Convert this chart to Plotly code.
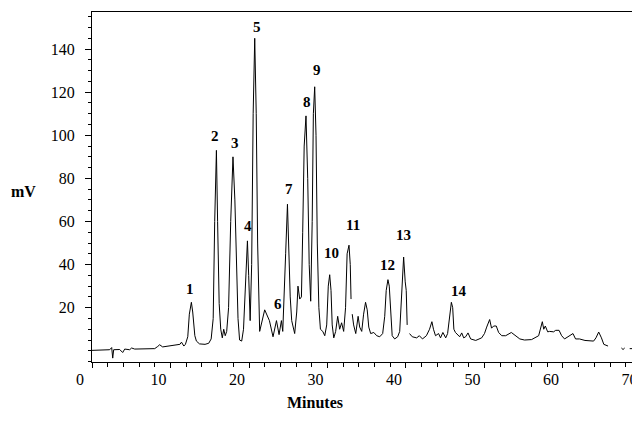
import plotly.graph_objects as go

# Retention time (min) and detector signal (mV); None marks breaks in the trace
rt_min = [0.00, 0.98, 2.25, 2.51, 2.64, 2.76, 3.53, 3.91, 4.17, 4.80, 5.05, 5.44, 6.71, 7.99,
          8.37, 8.62, 9.00, 9.90, 10.50, 11.20, 11.40, 11.70, 11.90, 12.20, 12.40, 12.66, 12.83,
          13.10, 13.30, 13.70, 14.40, 14.87, 15.18, 15.44, 15.63, 15.85, 16.00, 16.20, 16.40,
          16.60, 16.78, 16.97, 17.16, 17.40, 17.67, 17.96, 18.20, 18.40, 18.60, 18.80, 19.07,
          19.30, 19.60, 19.80, 19.96, 20.15, 20.34, 20.53, 20.73, 20.92, 21.10, 21.20, 21.36,
          22.00, 22.40, 22.60, 23.06, 23.50, 23.83, 24.13, 24.30, 24.46, 24.67, 24.90, 25.06,
          25.25, 25.44, 25.82, 26.08, 26.24, 26.46, 26.68, 26.84, 27.03, 27.26, 27.48, 27.67,
          27.86, 28.05, 28.20, 28.37, 28.54, 28.70, 28.90, 29.10, 29.40, 29.65, 29.90, 30.10,
          30.28, 30.45, 30.60, 30.80, 31.04, 31.30, 31.55, 31.80, 32.06, 32.30, 32.50, 32.74,
          32.90, 33.00, None, 33.15, 33.33, 33.60, 33.90, 34.10, 34.36, 34.60, 34.85, 35.06,
          35.26, 35.50, 35.90, 36.27, 36.65, 37.03, 37.29, 37.48, 37.70, 37.87, 38.06, 38.24,
          38.56, 38.94, 39.20, 39.45, 39.70, 39.90, 40.03, 40.15, None, 40.45, 40.80, 41.36,
          41.70, 42.10, 42.60, 43.00, 43.30, 43.50, 43.76, 44.15, 44.40, 44.70, 45.06, 45.30,
          45.60, 45.78, 45.95, 46.10, 46.30, 46.60, 46.84, 47.10, 47.35, 47.60, 47.90, 48.24,
          48.88, 49.64, 50.00, 50.28, 50.66, 50.90, 51.17, 51.50, 51.80, 52.20, 52.70, 53.42,
          53.97, 54.50, 55.10, 56.00, 56.90, 57.15, 57.37, 57.55, 57.75, 58.05, 58.30, 58.80,
          59.07, 59.50, 59.83, 60.20, 60.85, 61.27, 61.60, 62.10, 62.80, 63.40, 63.90, 64.20,
          64.55, 64.90, 65.20, 65.74, None, 67.44, 67.65, 67.86, None, 68.50, 69.77]
signal_mv = [0.2, 0.2, 0.5, 1.5, -3.4, 0.5, 0.6, -0.8, 0.8, 0.5, 1.3, 0.8, 1.0, 1.0,
             2.0, 2.8, 1.8, 2.2, 2.6, 3.0, 4.0, 2.2, 3.0, 6.5, 17, 22.5, 18,
             7, 4.5, 3.2, 3.0, 3.5, 5.5, 15, 60, 93, 60, 22, 10,
             6, 10, 7, 9, 20, 60, 90, 70, 35, 15, 5, 4.5,
             10, 40, 51, 35, 14, 40, 110, 145, 110, 50, 25, 9,
             19, 16, 14, 6.5, 14, 7.5, 14, 9, 30, 45, 68, 45,
             25, 14, 8, 18, 30, 24, 25, 55, 95, 109, 80, 40,
             23, 60, 110, 122.5, 100, 50, 20, 10, 9, 7, 12, 30,
             35.3, 28, 12, 6, 9, 16, 10, 13, 9, 20, 45, 49,
             40, 24, None, 17, 12, 8, 16, 11, 9, 17, 22.5, 19,
             11, 8, 8.5, 7, 6.5, 8, 16, 28, 33, 30, 15, 7,
             5.5, 6.5, 9, 25, 43.5, 32, 28, 12, None, 8, 6.5, 6,
             7, 5.5, 7, 10, 13.5, 10, 7, 8, 6, 8.5, 6, 8,
             18, 22.5, 20, 10, 8.5, 7.5, 6.5, 8.3, 6, 6.5, 8.3, 5.5,
             4.8, 6, 8, 11, 14.5, 10.5, 11.5, 11.5, 8.5, 7, 7, 8.5,
             7, 5.5, 5, 5.2, 7, 10, 13.5, 10, 11.5, 8.8, 9, 8.8,
             9.5, 9.5, 7, 5.5, 6.8, 8, 5.5, 5.5, 4.8, 4.5, 4.5, 6,
             8.7, 6, 3, 2.2, None, 1.3, 0.6, 1.3, None, 1.0, 1.0]

# Numbered peaks: apex retention time and height
peak_ids = ["1", "2", "3", "4", "5", "6", "7", "8", "9", "10", "11", "12", "13", "14"]
peak_rt = [12.66, 15.85, 17.96, 19.80, 20.73, 24.13, 24.90, 27.26, 28.37, 30.28, 32.74, 37.70, 39.70, 45.78]
peak_mv = [22.5, 93, 90, 51, 145, 14, 68, 109, 122.5, 35.3, 49, 33, 43.5, 22.5]

x_ticks = [0, 10, 20, 30, 40, 50, 60, 70]
y_ticks = [20, 40, 60, 80, 100, 120, 140]

# label placement offsets (px)
label_dx = [-1, -1, 2, 1, 2, -3, 2, 1, 2, 2, 4, 0, 0, 8]
label_dy = [3, 4, 4, 5, 1, 7, 5, 4, 7, 12, 10, 5, 12, 1]

serif = "Liberation Serif, Times New Roman, serif"

fig = go.Figure()
fig.add_trace(go.Scatter(x=rt_min, y=signal_mv, mode="lines",
                         line=dict(color="black", width=1), connectgaps=False,
                         hoverinfo="skip", showlegend=False))

for pid, rt, mv, dx, dy in zip(peak_ids, peak_rt, peak_mv, label_dx, label_dy):
    fig.add_annotation(x=rt, y=mv, text=f"<b>{pid}</b>", showarrow=False,
                       xanchor="center", yanchor="bottom", xshift=dx, yshift=dy,
                       font=dict(family=serif, size=15, color="black"))

fig.add_annotation(xref="paper", yref="paper", x=0.401, y=-0.116, text="<b>Minutes</b>",
                   showarrow=False, xanchor="center", yanchor="middle",
                   font=dict(family=serif, size=16, color="black"))
fig.add_annotation(xref="paper", yref="paper", x=-0.124, y=0.487, text="<b>mV</b>",
                   showarrow=False, xanchor="center", yanchor="middle",
                   font=dict(family=serif, size=16, color="black"))

fig.update_xaxes(range=[0, 70.83], tickmode="array", tickvals=x_ticks,
                 ticks="outside", ticklen=5, tickwidth=1, tickcolor="black",
                 showline=True, linecolor="black", linewidth=1, mirror=True,
                 showgrid=False, zeroline=False, ticklabelshift=-12, automargin=False,
                 ticklabelstandoff=-2,
                 tickfont=dict(family=serif, size=16, color="black"),
                 minor=dict(dtick=2, tick0=0, ticks="outside", ticklen=3.5,
                            tickcolor="black", showgrid=False))
fig.update_yaxes(range=[-5.2, 157.2], tickmode="array", tickvals=y_ticks,
                 ticks="outside", ticklen=6, tickwidth=1, tickcolor="black",
                 showline=True, linecolor="black", linewidth=1, automargin=False,
                 showgrid=False, zeroline=False, ticklabelstandoff=7,
                 tickfont=dict(family=serif, size=16, color="black"),
                 minor=dict(dtick=5, tick0=0, ticks="outside", ticklen=3.5,
                            tickcolor="black", showgrid=False))

# the page body adds an 8 px offset; the plot area runs past the window's right edge as in the reference
fig.update_layout(width=640, height=415, margin=dict(l=84, r=0, t=4, b=61),
                  plot_bgcolor="white", paper_bgcolor="white")

fig.write_html("out.html")
